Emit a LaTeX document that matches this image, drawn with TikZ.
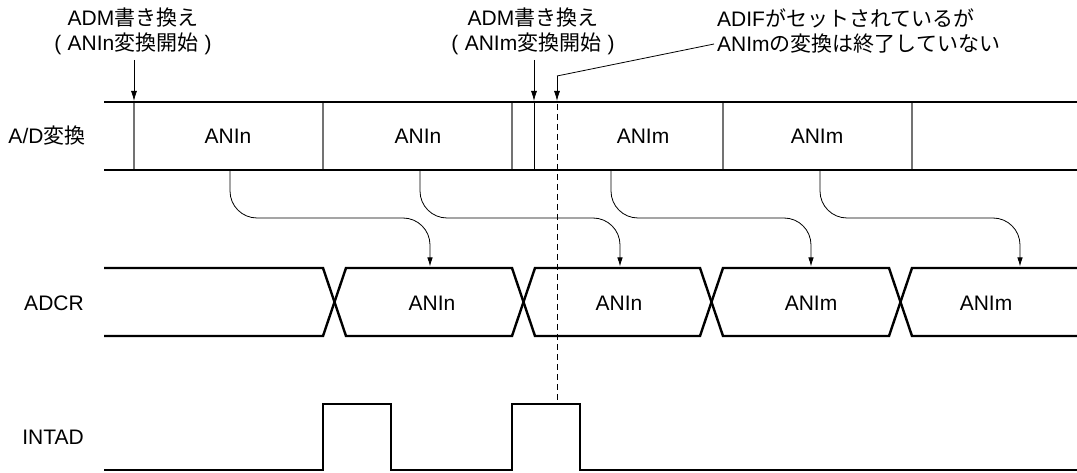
\documentclass[tikz,border=0pt]{standalone}
\usepackage{fontspec}
\setmainfont{Liberation Sans}
\newfontfamily\jp{Noto Sans CJK JP}
\usetikzlibrary{arrows.meta}
\begin{document}
\begin{tikzpicture}[x=1pt,y=-1pt,
  sig/.style={line width=2.4pt, line join=miter},
  div/.style={line width=1.2pt, draw=black!55},
  divd/.style={line width=1pt, draw=black},
  flow/.style={line width=0.8pt, -{Latex[length=9pt,width=5.5pt]}, rounded corners=27pt},
  annot/.style={line width=0.8pt, -{Latex[length=10pt,width=6pt]}},
  lbl/.style={font=\fontsize{21}{24}\selectfont, inner sep=0pt},
]
\useasboundingbox (0,0) rectangle (1077,473);

% ---- row labels
\node[lbl] (rAD) at (47,136) {A/D{\jp 変換}};
\node[lbl] (rADCR) at (54,303) {ADCR};
\node[lbl] (rINT) at (53,437) {INTAD};

% ---- top annotations
\node[lbl] (n1a) at (133,18) {ADM{\jp 書き換え}};
\node[lbl] (n1b) at (133,44) {(\hspace{0.3em}ANIn{\jp 変換開始}\hspace{0.3em})};
\node[lbl] (n2a) at (533,18) {ADM{\jp 書き換え}};
\node[lbl] (n2b) at (533,44) {(\hspace{0.3em}ANIm{\jp 変換開始}\hspace{0.3em})};
\node[lbl,anchor=west] (n3a) at (717,18) {ADIF{\jp がセットされているが}};
\node[lbl,anchor=west] (n3b) at (717,44) {ANIm{\jp の変換は終了していない}};

% ---- A/D row
\draw[sig] (104,102) -- (1077,102);
\draw[sig] (104,170) -- (1077,170);
\foreach \x in {134,323,512,723,912} \draw[div] (\x,103) -- (\x,169);
\draw[divd] (534,103) -- (534,169);
\node[lbl] (a1) at (228,136) {ANIn};
\node[lbl] (a2) at (418,136) {ANIn};
\node[lbl] (a3) at (643,136) {ANIm};
\node[lbl] (a4) at (817,136) {ANIm};

% ---- ADCR row
\draw[sig] (104,268) -- (323,268) -- (346,336) -- (512,336) -- (535,268) -- (700,268) -- (723,336) -- (889,336) -- (912,268) -- (1077,268);
\draw[sig] (104,336) -- (323,336) -- (346,268) -- (512,268) -- (535,336) -- (700,336) -- (723,268) -- (889,268) -- (912,336) -- (1077,336);
\node[lbl] (d1) at (432,303) {ANIn};
\node[lbl] (d2) at (619,303) {ANIn};
\node[lbl] (d3) at (811,303) {ANIm};
\node[lbl] (d4) at (986,303) {ANIm};

% ---- INTAD row
\draw[sig] (104,470) -- (323,470) -- (323,404) -- (391,404) -- (391,470) -- (512,470) -- (512,404) -- (580,404) -- (580,470) -- (1077,470);

% ---- transfer arrows
\draw[flow] (230,171) -- (230,218) -- (430,218) -- (430,266.5);
\draw[flow] (420,171) -- (420,218) -- (620,218) -- (620,266.5);
\draw[flow] (611,171) -- (611,218) -- (811,218) -- (811,266.5);
\draw[flow] (820,171) -- (820,218) -- (1020,218) -- (1020,266.5);

% ---- annotation arrows
\coordinate (p1) at (134,60);
\coordinate (q1) at (134,101);
\draw[annot] (p1) -- (q1);
\coordinate (p2) at (534,60);
\coordinate (q2) at (534,101);
\draw[annot] (p2) -- (q2);
\coordinate (k3) at (557,76);
\coordinate (q3) at (557,101);
\draw[line width=0.8pt] ([xshift=-3pt]n3b.west) -- (k3);
\draw[annot] (k3) -- (q3);
\coordinate (e3) at (557,403);
\draw[line width=0.8pt, dash pattern=on 6pt off 4pt] (557,104) -- (e3);
\end{tikzpicture}
\end{document}
